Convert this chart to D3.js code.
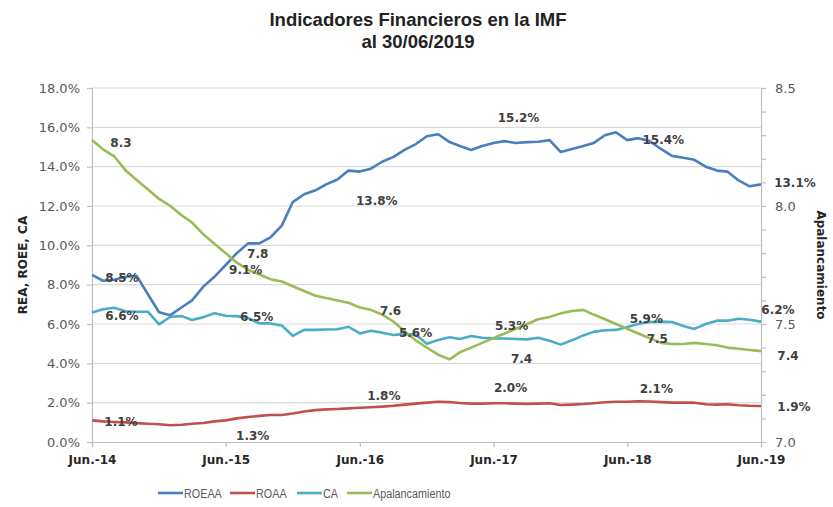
<!DOCTYPE html>
<html>
<head>
<meta charset="utf-8">
<script src="https://cdn.jsdelivr.net/npm/d3@7"></script>
<style>
  body { margin: 0; background: #fff; }
  text { font-family: "DejaVu Sans", Verdana, sans-serif; }
</style>
</head>
<body>
<div id="chart"></div>
<script>
// Monthly data, Jun-2014 .. Jun-2019
const months = d3.timeMonth.range(new Date(2014, 5, 1), new Date(2019, 6, 1));
const yearTicks = ["Jun.-14", "Jun.-15", "Jun.-16", "Jun.-17", "Jun.-18", "Jun.-19"];

const roeaa = [8.5, 8.2, 8.25, 8.4, 8.45, 7.5, 6.6, 6.45, 6.85, 7.2, 7.9, 8.4,
  9.0, 9.6, 10.1, 10.1, 10.4, 11.0, 12.2, 12.6, 12.8, 13.1, 13.35, 13.8,
  13.75, 13.9, 14.25, 14.5, 14.85, 15.15, 15.55, 15.65, 15.25, 15.05, 14.85, 15.05,
  15.2, 15.3, 15.2, 15.25, 15.27, 15.35, 14.75, 14.9, 15.05, 15.2, 15.6, 15.75,
  15.35, 15.45, 15.3, 14.9, 14.55, 14.45, 14.35, 14.0, 13.8, 13.75, 13.3, 13.0, 13.1];

const roaa = [1.1, 1.05, 1.02, 1.0, 0.96, 0.93, 0.9, 0.85, 0.88, 0.93, 0.97, 1.05,
  1.1, 1.2, 1.27, 1.33, 1.37, 1.37, 1.45, 1.55, 1.62, 1.66, 1.68, 1.71,
  1.74, 1.77, 1.8, 1.84, 1.9, 1.95, 2.0, 2.05, 2.03, 1.98, 1.95, 1.95,
  1.97, 1.97, 1.95, 1.94, 1.95, 1.97, 1.88, 1.9, 1.93, 1.97, 2.02, 2.05,
  2.05, 2.07, 2.06, 2.03, 2.0, 2.0, 2.0, 1.92, 1.9, 1.92, 1.87, 1.84, 1.83];

const ca = [6.58, 6.75, 6.83, 6.65, 6.62, 6.62, 5.98, 6.37, 6.4, 6.2, 6.35, 6.55,
  6.42, 6.4, 6.3, 6.03, 6.03, 5.92, 5.4, 5.7, 5.7, 5.72, 5.73, 5.86,
  5.52, 5.66, 5.56, 5.44, 5.5, 5.45, 5.0, 5.19, 5.33, 5.24, 5.39, 5.3,
  5.27, 5.26, 5.24, 5.22, 5.3, 5.15, 4.95, 5.17, 5.42, 5.6, 5.68, 5.7,
  5.85, 6.0, 6.1, 6.12, 6.1, 5.9, 5.75, 6.0, 6.17, 6.17, 6.27, 6.22, 6.12];

const apalancamiento = [8.28, 8.24, 8.21, 8.15, 8.11, 8.07, 8.03, 8.0, 7.96, 7.93, 7.88, 7.84,
  7.8, 7.76, 7.73, 7.71, 7.69, 7.68, 7.66, 7.64, 7.62, 7.61, 7.6, 7.59,
  7.57, 7.56, 7.54, 7.51, 7.47, 7.43, 7.4, 7.37, 7.35, 7.38, 7.4, 7.42,
  7.44, 7.46, 7.48, 7.5, 7.52, 7.53, 7.545, 7.555, 7.56, 7.54, 7.52, 7.5,
  7.48, 7.46, 7.44, 7.42, 7.415, 7.415, 7.42, 7.415, 7.41, 7.4, 7.395, 7.39, 7.385];

const leftTicks = [0, 2, 4, 6, 8, 10, 12, 14, 16, 18];
const rightTicks = [7.0, 7.5, 8.0, 8.5];

// data labels: series, month index, text, offsets
const dataLabels = [
  { s: "apal", i: 0, t: "8.3", dx: 29, dy: 3 },
  { s: "roeaa", i: 0, t: "8.5%", dx: 30, dy: 3 },
  { s: "ca", i: 0, t: "6.6%", dx: 30, dy: 3 },
  { s: "roaa", i: 0, t: "1.1%", dx: 29, dy: 1 },
  { s: "apal", i: 12, t: "7.8", dx: 32, dy: 1 },
  { s: "roeaa", i: 12, t: "9.1%", dx: 20, dy: 5 },
  { s: "ca", i: 12, t: "6.5%", dx: 31, dy: 1 },
  { s: "roaa", i: 12, t: "1.3%", dx: 27, dy: 15 },
  { s: "roeaa", i: 24, t: "13.8%", dx: 17, dy: 29 },
  { s: "roaa", i: 24, t: "1.8%", dx: 24, dy: -12 },
  { s: "apal", i: 27, t: "7.6", dx: -3, dy: -11 },
  { s: "ca", i: 28, t: "5.6%", dx: 11, dy: -1 },
  { s: "roeaa", i: 36, t: "15.2%", dx: 25, dy: -25 },
  { s: "ca", i: 36, t: "5.3%", dx: 18, dy: -13 },
  { s: "apal", i: 36, t: "7.4", dx: 28, dy: 21 },
  { s: "roaa", i: 36, t: "2.0%", dx: 17, dy: -15 },
  { s: "roeaa", i: 48, t: "15.4%", dx: 36, dy: 0 },
  { s: "ca", i: 48, t: "5.9%", dx: 19, dy: -8 },
  { s: "apal", i: 48, t: "7.5", dx: 30, dy: 10 },
  { s: "roaa", i: 48, t: "2.1%", dx: 29, dy: -13 },
  { s: "roeaa", i: 60, t: "13.1%", dx: 34, dy: -2 },
  { s: "ca", i: 60, t: "6.2%", dx: 17, dy: -12 },
  { s: "apal", i: 60, t: "7.4", dx: 27, dy: 5 },
  { s: "roaa", i: 60, t: "1.9%", dx: 33, dy: 1 }
];

const W = 833, H = 507;
const margin = { top: 88, right: 72, bottom: 65, left: 92 };

const svg = d3.select("#chart").append("svg")
  .attr("width", W).attr("height", H);

const x = d3.scaleTime()
  .domain([months[0], months[months.length - 1]])
  .range([margin.left, W - margin.right]);

const yL = d3.scaleLinear().domain([0, 18]).range([H - margin.bottom, margin.top]);
const yR = d3.scaleLinear().domain([7.0, 8.5]).range([H - margin.bottom, margin.top]);

// title
const titleFont = "'Liberation Sans', Arial, sans-serif";
svg.append("text").attr("x", 418).attr("y", 26).attr("text-anchor", "middle")
  .style("font-family", titleFont)
  .style("font-weight", "bold").style("font-size", "18.5px").attr("fill", "#222")
  .text("Indicadores Financieros en la IMF");
svg.append("text").attr("x", 418).attr("y", 48).attr("text-anchor", "middle")
  .style("font-family", titleFont)
  .style("font-weight", "bold").style("font-size", "18.5px").attr("fill", "#222")
  .text("al 30/06/2019");

// gridlines
svg.append("g").selectAll("line").data(leftTicks.filter(d => d > 0)).enter().append("line")
  .attr("x1", margin.left).attr("x2", W - margin.right)
  .attr("y1", d => yL(d)).attr("y2", d => yL(d))
  .attr("stroke", "#d9d9d9").attr("stroke-width", 1.2);

// left axis
const axL = svg.append("g").attr("transform", `translate(${margin.left},0)`)
  .call(d3.axisLeft(yL).tickValues(leftTicks).tickFormat(d => d.toFixed(1) + "%").tickSize(5).tickPadding(7));
// right axis (minor ticks every 0.1)
const axR = svg.append("g").attr("transform", `translate(${W - margin.right},0)`)
  .call(d3.axisRight(yR).tickValues(d3.range(70, 86).map(d => d / 10))
    .tickFormat(d => rightTicks.some(r => Math.abs(r - d) < 1e-6) ? d.toFixed(1) : "")
    .tickSize(5).tickPadding(9));
// bottom axis
const axB = svg.append("g").attr("transform", `translate(0,${H - margin.bottom})`)
  .call(d3.axisBottom(x).tickValues(months.filter(m => m.getMonth() === 5))
    .tickFormat((d, i) => yearTicks[i]).tickSize(5).tickPadding(8));

[axL, axR, axB].forEach(a => {
  a.selectAll(".domain, line").attr("stroke", "#bfbfbf").attr("stroke-width", 1.2);
  a.selectAll("text").attr("fill", "#595959").style("font-size", "13px");
});
axB.selectAll("text").attr("fill", "#262626").style("font-weight", "bold").style("font-size", "12px");

// axis titles
svg.append("text").attr("transform", `translate(27,${(margin.top + H - margin.bottom) / 2}) rotate(-90)`)
  .attr("text-anchor", "middle").style("font-size", "12px").style("font-weight", "bold")
  .attr("fill", "#262626").text("REA, ROEE, CA");
svg.append("text").attr("transform", `translate(817,${(margin.top + H - margin.bottom) / 2}) rotate(90)`)
  .attr("text-anchor", "middle").style("font-size", "12px").style("font-weight", "bold")
  .attr("fill", "#262626").text("Apalancamiento");

// series
const series = [
  { key: "roeaa", name: "ROEAA", values: roeaa, y: yL, color: "#4a7ebf" },
  { key: "roaa", name: "ROAA", values: roaa, y: yL, color: "#c0504d" },
  { key: "ca", name: "CA", values: ca, y: yL, color: "#4bacc6" },
  { key: "apal", name: "Apalancamiento", values: apalancamiento, y: yR, color: "#9bbb59" }
];

series.forEach(s => {
  const line = d3.line().x((d, i) => x(months[i])).y(d => s.y(d));
  svg.append("path").datum(s.values)
    .attr("fill", "none").attr("stroke", s.color).attr("stroke-width", 2.6)
    .attr("stroke-linejoin", "round").attr("d", line);
});

// data labels
const byKey = {};
series.forEach(s => byKey[s.key] = s);
svg.append("g").selectAll("text").data(dataLabels).enter().append("text")
  .attr("x", d => x(months[d.i]) + d.dx)
  .attr("y", d => byKey[d.s].y(byKey[d.s].values[d.i]) + d.dy)
  .attr("dy", "0.35em").attr("text-anchor", "middle")
  .style("font-size", "12px").style("font-weight", "bold").attr("fill", "#404040")
  .text(d => d.t);

// legend (narrow text, like the original)
const legendX = [158, 230, 297, 347];
const lg = svg.append("g").selectAll("g").data(series).enter().append("g")
  .attr("transform", (d, i) => `translate(${legendX[i]},493)`);
lg.append("line").attr("x1", 0).attr("x2", 25).attr("stroke", d => d.color).attr("stroke-width", 2.6);
lg.append("text").attr("transform", "translate(26,0) scale(0.8,1)").attr("dy", "0.35em")
  .style("font-family", "'Liberation Sans', Arial, sans-serif")
  .style("font-size", "13.5px").attr("fill", "#595959").text(d => d.name);
</script>
</body>
</html>
